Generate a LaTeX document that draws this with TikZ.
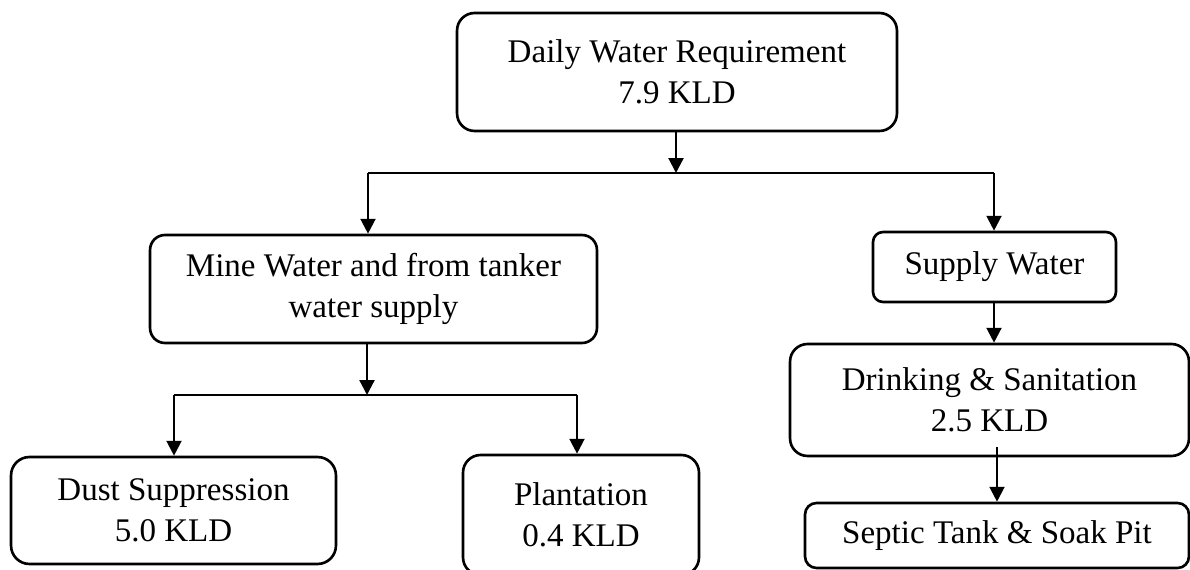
\documentclass[tikz,border=0pt]{standalone}
\usepackage{fontspec}
\setmainfont{Liberation Serif}
\usetikzlibrary{arrows.meta}
\begin{document}
\begin{tikzpicture}[x=0.02cm, y=-0.02cm, >={Triangle[length=8.5pt,width=8.5pt]}, line width=1.3pt,
  flowbox/.style={draw, line width=1.5pt, align=center, inner sep=0pt,
    font=\fontsize{18.8}{23.2}\selectfont}]
\useasboundingbox (0,0) rectangle (1190,570);

\node[flowbox, rounded corners=10pt, minimum width=8.8cm, minimum height=2.36cm] (req) at (677,72)
  {Daily Water Requirement\\7.9 KLD};
\node[flowbox, rounded corners=8.5pt, minimum width=8.94cm, minimum height=2.16cm] (mine) at (373.5,289)
  {Mine Water and from tanker\\water supply};
\node[flowbox, rounded corners=5.7pt, minimum width=4.86cm, minimum height=1.4cm] (supply) at (994.5,267)
  {Supply Water};
\node[flowbox, rounded corners=10pt, minimum width=7.98cm, minimum height=2.24cm] (drink) at (989.5,400)
  {Drinking \& Sanitation\\2.5 KLD};
\node[flowbox, rounded corners=6.5pt, minimum width=7.68cm, minimum height=1.3cm] (septic) at (997,535.5)
  {Septic Tank \& Soak Pit};
\node[flowbox, rounded corners=10.5pt, minimum width=6.5cm, minimum height=2.14cm] (dust) at (173.5,510.5)
  {Dust Suppression\\5.0 KLD};
\node[flowbox, rounded corners=10pt, minimum width=4.72cm, minimum height=2.4cm] (plant) at (581,515)
  {Plantation\\0.4 KLD};

\coordinate (top) at (676,173);
\coordinate (topL) at (368,173);
\coordinate (topR) at (994,173);
\coordinate (low) at (367,395);
\coordinate (lowL) at (174,395);
\coordinate (lowR) at (577,395);
\coordinate (dsrc) at (997,447);

\draw[->] (req.south -| top) -- (top);
\draw (topL) -- (topR);
\draw[->] (topL) -- (topL |- mine.north);
\draw[->] (topR) -- (topR |- supply.north);

\draw[->] (mine.south -| low) -- (low);
\draw (lowL) -- (lowR);
\draw[->] (lowL) -- (lowL |- dust.north);
\draw[->] (lowR) -- (lowR |- plant.north);

\draw[->] (supply.south -| topR) -- (topR |- drink.north);
\draw[->] (dsrc) -- (dsrc |- septic.north);
\end{tikzpicture}
\end{document}
